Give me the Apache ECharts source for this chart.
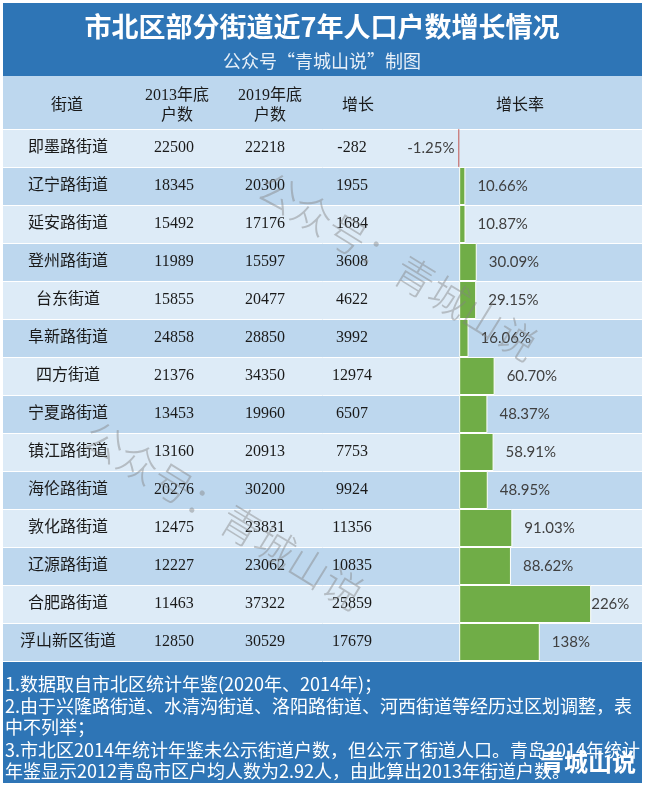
<!DOCTYPE html>
<html>
<head>
<meta charset="utf-8">
<script src="https://cdn.jsdelivr.net/npm/echarts@6/dist/echarts.min.js"></script>
<style>
  html, body { margin: 0; padding: 0; background: #fff; }
  #chart { width: 646px; height: 787px; }
</style>
</head>
<body>
<div id="chart"></div>
<script>
// 数据
var names = ['即墨路街道', '辽宁路街道', '延安路街道', '登州路街道', '台东街道', '阜新路街道', '四方街道',
  '宁夏路街道', '镇江路街道', '海伦路街道', '敦化路街道', '辽源路街道', '合肥路街道', '浮山新区街道'];
var hu2013 = [22500, 18345, 15492, 11989, 15855, 24858, 21376, 13453, 13160, 20276, 12475, 12227, 11463, 12850];
var hu2019 = [22218, 20300, 17176, 15597, 20477, 28850, 34350, 19960, 20913, 30200, 23831, 23062, 37322, 30529];
var growth = [-282, 1955, 1684, 3608, 4622, 3992, 12974, 6507, 7753, 9924, 11356, 10835, 25859, 17679];
var rate = ['-1.25', '10.66', '10.87', '30.09', '29.15', '16.06', '60.70', '48.37', '58.91', '48.95', '91.03', '88.62', '226', '138'];

var headers = ['街道', '2013年底\n户数', '2019年底\n户数', '增长', '增长率'];
var notes = [
  '1.数据取自市北区统计年鉴(2020年、2014年)；',
  '2.由于兴隆路街道、水清沟街道、洛阳路街道、河西街道等经历过区划调整，表',
  '中不列举；',
  '3.市北区2014年统计年鉴未公示街道户数，但公示了街道人口。青岛2014年统计',
  '年鉴显示2012青岛市区户均人数为2.92人，由此算出2013年街道户数。'
];

var BLUE = '#2E75B6';
var cellFont = "'Liberation Serif','Noto Sans CJK SC'";

var chart = echarts.init(document.getElementById('chart'));

// 表格列（用类目轴标签画）
function colAxis(data, x) {
  return {
    type: 'category', inverse: true, position: 'left', offset: -(x - 3),
    data: data.map(String),
    axisLine: { show: false }, axisTick: { show: false },
    axisLabel: { align: 'center', margin: 0, color: '#1a1a1a', fontSize: 16, fontFamily: cellFont }
  };
}

var barData = rate.map(function (r) {
  var v = Number(r);
  var item = { value: v, label: { formatter: r + '%' } };
  if (v < 0) {
    item.itemStyle = { color: '#C0504D', borderColor: '#C0504D', borderWidth: 0.5 };
    item.label.position = 'left';
    item.label.distance = 4;
  } else if (v > 200) {
    item.label.distance = 0;
  }
  return item;
});

var headerX = [67, 177, 270, 358, 520];
var graphics = [
  { type: 'rect', shape: { x: 3, y: 3, width: 639, height: 73 }, style: { fill: BLUE }, z: -10 },
  { type: 'rect', shape: { x: 3, y: 76, width: 639, height: 53 }, style: { fill: '#BDD7EE' }, z: -10 },
  { type: 'rect', shape: { x: 3, y: 661, width: 639, height: 122 }, style: { fill: BLUE }, z: -10 },
  { type: 'text', x: 322, y: 27, style: { text: '市北区部分街道近7年人口户数增长情况', fill: '#fff',
      font: "bold 27px 'Noto Sans CJK SC'", textAlign: 'center', textVerticalAlign: 'middle' } },
  { type: 'text', x: 322, y: 61, style: { text: '公众号“青城山说”制图', fill: '#E8F0F8',
      font: "18px 'Noto Sans CJK SC'", textAlign: 'center', textVerticalAlign: 'middle' } },
  { type: 'text', x: 588, y: 762, style: { text: '青城山说', fill: '#fff',
      font: "bold 24px 'Noto Sans CJK SC'", textAlign: 'center', textVerticalAlign: 'middle' }, z: 10 }
];
headers.forEach(function (h, i) {
  graphics.push({ type: 'text', x: headerX[i], y: 106, style: { text: h, fill: '#1a1a1a',
    font: '16px ' + cellFont, textAlign: 'center', textVerticalAlign: 'middle', lineHeight: 20 } });
});
var noteY = [684, 706, 727, 750, 771];
notes.forEach(function (t, i) {
  graphics.push({ type: 'text', x: 5, y: noteY[i], style: { text: t, fill: '#fff',
    font: "18px 'Noto Sans CJK SC'", textAlign: 'left', textVerticalAlign: 'middle' } });
});
// 水印
[[398, 266], [224, 515]].forEach(function (p) {
  graphics.push({ type: 'text', x: p[0], y: p[1], rotation: -0.55, z: 20, silent: true,
    style: { text: '公众号：青城山说', fill: 'rgba(130,130,130,0.45)',
      font: "300 40px 'Noto Sans CJK SC'", textAlign: 'center', textVerticalAlign: 'middle' } });
});

var option = {
  backgroundColor: '#fff',
  animation: false,
  grid: { left: 3, right: 4, top: 129, bottom: 126 },
  xAxis: {
    type: 'value', min: -781, max: 313, show: false
  },
  yAxis: [
    {
      type: 'category', inverse: true, data: names,
      axisLine: { show: false }, axisTick: { show: false }, axisLabel: { show: false },
      splitArea: { show: true, areaStyle: { color: ['#DDEBF7', '#BDD7EE'] } },
      splitLine: { show: true, lineStyle: { color: '#fff', width: 1 } }
    },
    colAxis(names, 68),
    colAxis(hu2013, 174),
    colAxis(hu2019, 265),
    colAxis(growth, 352)
  ],
  series: [{
    type: 'bar', yAxisIndex: 0, data: barData,
    barCategoryGap: 0,
    itemStyle: { color: '#70AD47', borderColor: '#fff', borderWidth: 1 },
    label: { show: true, position: 'right', distance: 12, color: '#404040', fontSize: 15, fontFamily: 'Lato' }
  }],
  graphic: graphics
};

chart.setOption(option);
</script>
</body>
</html>
